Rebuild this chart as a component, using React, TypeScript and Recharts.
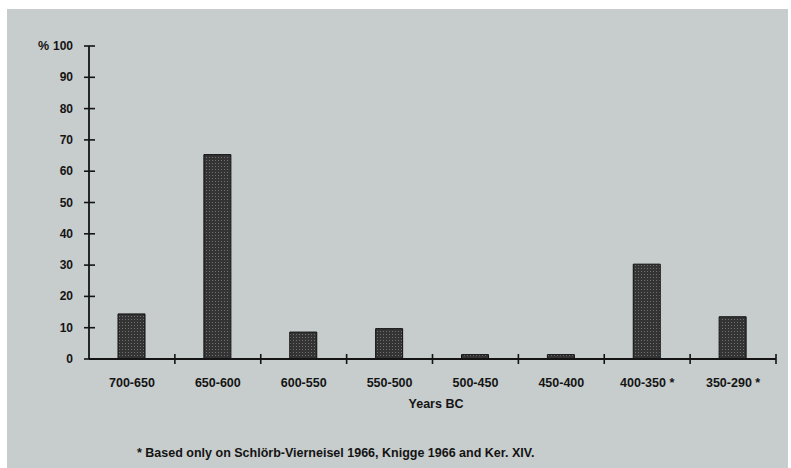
import { Bar, BarChart, XAxis, YAxis } from "recharts";

const periods = [
  "700-650",
  "650-600",
  "600-550",
  "550-500",
  "500-450",
  "450-400",
  "400-350 *",
  "350-290 *"
];
const shares = [14.4, 65.3, 8.6, 9.7, 1.4, 1.4, 30.3, 13.5];
const yTicks = [0, 10, 20, 30, 40, 50, 60, 70, 80, 90, 100];

const data = periods.map((period, i) => ({ period, share: shares[i] }));

const font = "'Liberation Sans', Arial, sans-serif";
const ink = "#141414";

function YTick({ x, y, payload }: any) {
  const axisX = x + 16;
  return (
    <g>
      <line x1={axisX - 5} x2={axisX + 6} y1={y} y2={y} stroke={ink} strokeWidth={1.6} />
      <text
        x={x}
        y={y}
        textAnchor="end"
        dominantBaseline="central"
        fontFamily={font}
        fontWeight="bold"
        fontSize={12}
        fill={ink}
      >
        {payload.value}
      </text>
    </g>
  );
}

function XTick({ x, y, width, payload }: any) {
  const edge = x + width / periods.length / 2;
  return (
    <g>
      <line x1={edge} x2={edge} y1={y - 5} y2={y + 5} stroke={ink} strokeWidth={1.6} />
      <text
        x={x}
        y={y + 28}
        textAnchor="middle"
        fontFamily={font}
        fontWeight="bold"
        fontSize={12.5}
        fill={ink}
      >
        {payload.value}
      </text>
    </g>
  );
}

const textStyle = {
  position: "absolute" as const,
  fontFamily: font,
  fontWeight: "bold" as const,
  fontSize: 12.5,
  color: ink,
  whiteSpace: "nowrap" as const,
  lineHeight: "14px"
};

export default function App() {
  return (
    <div
      style={{
        position: "absolute",
        left: 7,
        top: 9,
        width: 781,
        height: 459,
        background: "#c7cccc"
      }}
    >
      <BarChart
        width={781}
        height={459}
        data={data}
        margin={{ top: 37, right: 12, left: 0, bottom: 69 }}
      >
        <defs>
          <pattern id="speckle" width="3" height="3" patternUnits="userSpaceOnUse">
            <rect width="3" height="3" fill="#343434" />
            <rect x="1" y="1" width="1" height="1" fill="#707070" />
          </pattern>
        </defs>
        <XAxis
          dataKey="period"
          height={40}
          interval={0}
          tickLine={false}
          tickSize={0}
          tickMargin={0}
          axisLine={{ stroke: ink, strokeWidth: 1.8 }}
          tick={<XTick />}
        />
        <YAxis
          width={82}
          domain={[0, 100]}
          ticks={yTicks}
          interval={0}
          tickLine={false}
          tickSize={0}
          tickMargin={16}
          axisLine={{ stroke: ink, strokeWidth: 1.8 }}
          tick={<YTick />}
        />
        <Bar
          dataKey="share"
          barSize={27}
          fill="url(#speckle)"
          stroke="#111"
          strokeWidth={1}
          isAnimationActive={false}
        />
      </BarChart>
      <div style={{ ...textStyle, left: 31, top: 30 }}>%</div>
      <div style={{ ...textStyle, left: 429, top: 388, transform: "translateX(-50%)" }}>
        Years BC
      </div>
      <div style={{ ...textStyle, left: 130, top: 437 }}>
        * Based only on Schlörb-Vierneisel 1966, Knigge 1966 and Ker. XIV.
      </div>
    </div>
  );
}
